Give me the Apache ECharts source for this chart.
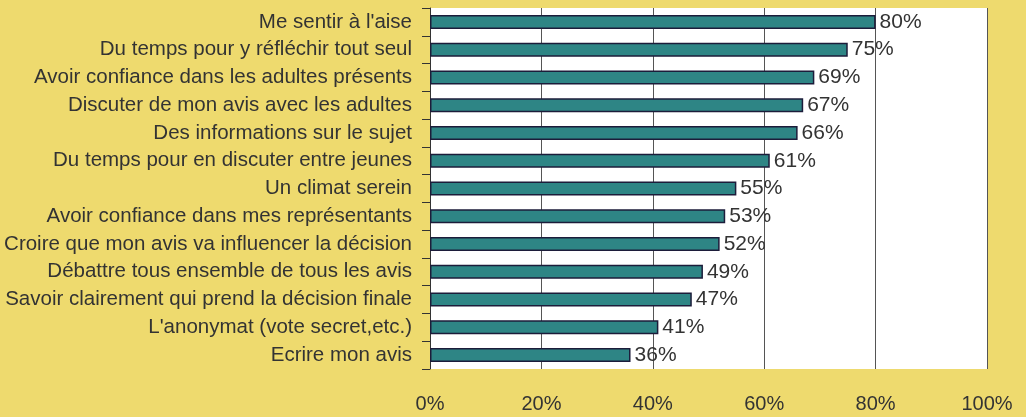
<!DOCTYPE html>
<html>
<head>
<meta charset="utf-8">
<script src="https://cdn.jsdelivr.net/npm/echarts@6/dist/echarts.min.js"></script>
<style>
  html, body { margin: 0; padding: 0; background: #EEDA6E; }
  #chart { width: 1026px; height: 417px; }
</style>
</head>
<body>
<div id="chart"></div>
<script>
// libellés des réponses
var categories = [
  "Me sentir à l'aise",
  "Du temps pour y réfléchir tout seul",
  "Avoir confiance dans les adultes présents",
  "Discuter de mon avis avec les adultes",
  "Des informations sur le sujet",
  "Du temps pour en discuter entre jeunes",
  "Un climat serein",
  "Avoir confiance dans mes représentants",
  "Croire que mon avis va influencer la décision",
  "Débattre tous ensemble de tous les avis",
  "Savoir clairement qui prend la décision finale",
  "L'anonymat (vote secret,etc.)",
  "Ecrire mon avis"
];
// pourcentages
var values = [80, 75, 69, 67, 66, 61, 55, 53, 52, 49, 47, 41, 36];

var myChart = echarts.init(document.getElementById('chart'), null, {renderer: 'canvas'});

var option = {
  backgroundColor: '#EEDA6E',
  textStyle: { fontFamily: 'Liberation Sans, Arial, sans-serif' },
  grid: {
    left: 430, right: 39, top: 8, bottom: 48,
    show: true, backgroundColor: '#ffffff', borderWidth: 0
  },
  xAxis: {
    type: 'value',
    min: 0, max: 100, interval: 20,
    axisLine: { show: false },
    axisTick: { show: false },
    axisLabel: { formatter: '{value}%', color: '#333', fontSize: 20, margin: 25 },
    splitLine: { show: true, lineStyle: { color: '#555', width: 1 } }
  },
  yAxis: {
    type: 'category',
    inverse: true,
    data: categories,
    axisLine: { show: true, lineStyle: { color: '#333', width: 1 } },
    axisTick: { show: true, length: 8, lineStyle: { color: '#333' } },
    axisLabel: { color: '#333', fontSize: 20.5, margin: 18 }
  },
  series: [{
    type: 'bar',
    data: values,
    barWidth: 14,
    itemStyle: { color: '#2E8585', borderColor: '#1C1C3A', borderWidth: 1.5 },
    label: {
      show: true, position: 'right', distance: 4,
      formatter: '{c}%', color: '#333', fontSize: 21
    }
  }],
  animation: false
};
myChart.setOption(option);
</script>
</body>
</html>
